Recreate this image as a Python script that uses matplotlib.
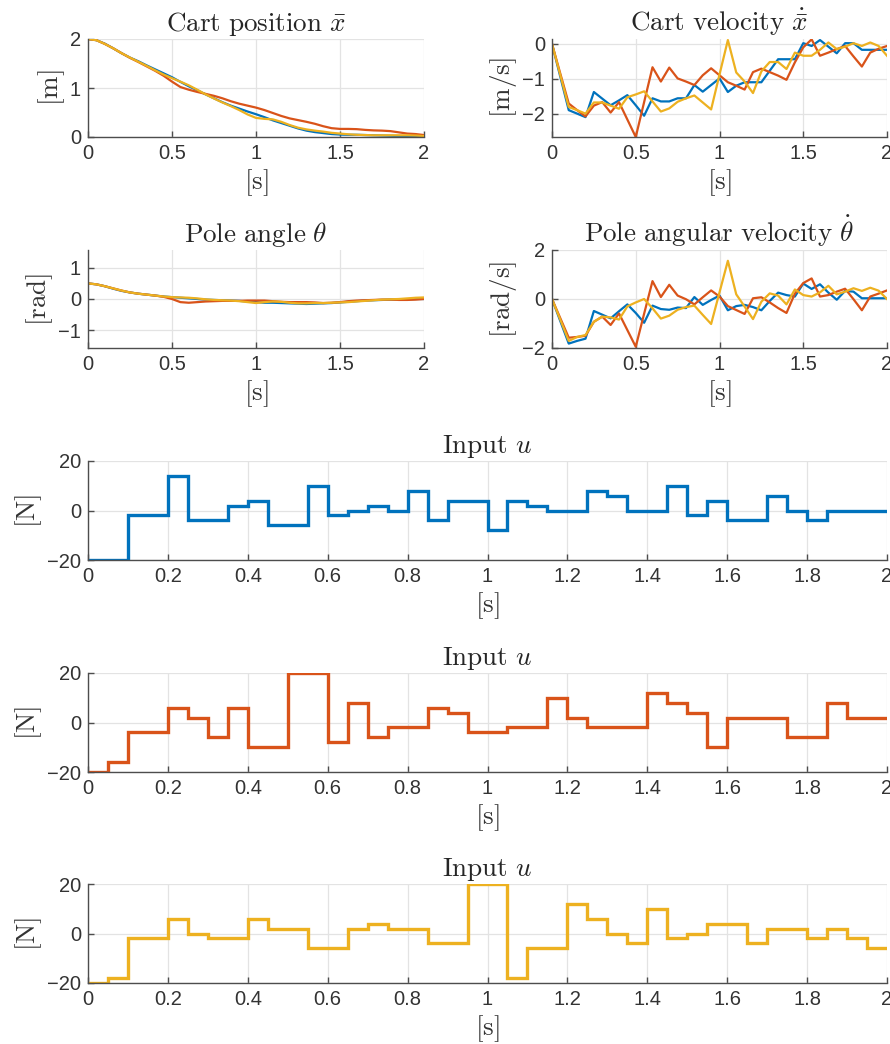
import numpy as np
import matplotlib
matplotlib.use("Agg")
import matplotlib.pyplot as plt

# ---------------- data ----------------
t_state = np.round(np.arange(41) * 0.05, 2)   # sample times [s]
t_edges = np.round(np.arange(41) * 0.05, 2)   # input step edges [s]

pos_blue = [2.00, 1.976, 1.905, 1.81, 1.71, 1.62, 1.545, 1.46, 1.38, 1.30, 1.22,
            1.125, 1.035, 0.955, 0.87, 0.79, 0.71, 0.64, 0.58, 0.52, 0.465,
            0.405, 0.34, 0.285, 0.23, 0.175, 0.13, 0.10, 0.08, 0.06, 0.05,
            0.045, 0.045, 0.04, 0.035, 0.03, 0.025, 0.02, 0.015, 0.01, 0.005]
pos_red = [2.00, 1.976, 1.90, 1.81, 1.71, 1.615, 1.53, 1.44, 1.35, 1.25, 1.13,
           1.02, 0.965, 0.92, 0.88, 0.84, 0.79, 0.73, 0.68, 0.64, 0.60,
           0.55, 0.49, 0.43, 0.38, 0.345, 0.31, 0.27, 0.22, 0.18, 0.165,
           0.165, 0.16, 0.145, 0.135, 0.13, 0.12, 0.095, 0.07, 0.06, 0.04]
pos_yellow = [2.00, 1.976, 1.90, 1.81, 1.71, 1.62, 1.535, 1.45, 1.36, 1.275, 1.20,
              1.13, 1.055, 0.965, 0.87, 0.785, 0.705, 0.63, 0.55, 0.46, 0.39,
              0.37, 0.36, 0.31, 0.245, 0.19, 0.155, 0.13, 0.11, 0.085, 0.07,
              0.055, 0.045, 0.04, 0.035, 0.035, 0.035, 0.035, 0.035, 0.03, 0.02]

vel_blue = [0.0, -0.95, -1.90, -2.00, -2.10, -1.38, -1.57, -1.76, -1.62, -1.47, -1.76,
            -2.06, -1.56, -1.65, -1.65, -1.56, -1.56, -1.18, -1.37, -1.18, -0.99,
            -1.38, -1.20, -1.10, -1.10, -1.10, -0.77, -0.44, -0.44, -0.44, 0.02,
            -0.06, 0.11, -0.08, -0.27, 0.02, 0.02, -0.17, -0.17, -0.17, -0.17]
vel_red = [0.0, -0.86, -1.71, -1.90, -2.08, -1.77, -1.67, -1.97, -1.67, -2.17, -2.67,
           -1.67, -0.67, -1.08, -0.68, -0.99, -1.08, -1.18, -0.90, -0.70, -0.90,
           -1.10, -1.20, -1.31, -0.81, -0.71, -0.81, -0.91, -1.03, -0.53, -0.10,
           0.13, -0.34, -0.25, -0.15, -0.06, -0.36, -0.65, -0.25, -0.14, -0.06]
vel_yellow = [0.0, -0.90, -1.81, -1.90, -2.00, -1.68, -1.68, -1.77, -1.86, -1.53, -1.45,
              -1.36, -1.65, -1.94, -1.85, -1.66, -1.56, -1.48, -1.68, -1.88, -0.88,
              0.11, -0.82, -1.08, -1.41, -0.79, -0.52, -0.52, -0.72, -0.25, -0.34,
              -0.34, -0.17, 0.04, -0.15, -0.08, 0.02, -0.06, 0.04, -0.06, -0.34]

ang_blue = [0.50, 0.47, 0.41, 0.33, 0.26, 0.21, 0.17, 0.14, 0.11, 0.08, 0.06,
            0.04, 0.02, 0.00, -0.02, -0.03, -0.04, -0.05, -0.06, -0.08, -0.10,
            -0.12, -0.12, -0.13, -0.14, -0.15, -0.16, -0.15, -0.14, -0.13, -0.11,
            -0.09, -0.07, -0.05, -0.04, -0.03, -0.02, -0.02, -0.01, 0.00, 0.00]
ang_red = [0.50, 0.47, 0.41, 0.34, 0.27, 0.21, 0.17, 0.14, 0.11, 0.07, 0.00,
           -0.10, -0.12, -0.10, -0.08, -0.07, -0.06, -0.06, -0.06, -0.05, -0.05,
           -0.05, -0.07, -0.09, -0.10, -0.10, -0.10, -0.11, -0.13, -0.12, -0.10,
           -0.07, -0.05, -0.04, -0.03, -0.02, -0.02, -0.03, -0.03, -0.02, 0.00]
ang_yellow = [0.50, 0.47, 0.41, 0.34, 0.27, 0.21, 0.17, 0.14, 0.11, 0.08, 0.06,
              0.05, 0.04, 0.02, -0.01, -0.03, -0.04, -0.05, -0.07, -0.10, -0.13,
              -0.10, -0.08, -0.09, -0.12, -0.14, -0.14, -0.13, -0.13, -0.12, -0.11,
              -0.10, -0.08, -0.06, -0.04, -0.02, -0.01, 0.00, 0.02, 0.04, 0.05]

omg_blue = [0.0, -0.91, -1.82, -1.71, -1.62, -0.49, -0.64, -0.79, -0.50, -0.22, -0.57,
            -0.97, -0.27, -0.41, -0.44, -0.35, -0.37, 0.08, -0.24, -0.04, 0.14,
            -0.46, -0.29, -0.24, -0.33, -0.46, -0.08, 0.26, 0.16, 0.10, 0.63,
            0.41, 0.60, 0.26, -0.03, 0.33, 0.30, 0.03, 0.03, 0.03, 0.03]
omg_red = [0.0, -0.79, -1.58, -1.55, -1.50, -0.93, -0.72, -1.06, -0.59, -1.27, -1.95,
           -0.60, 0.73, 0.08, 0.58, 0.14, -0.01, -0.22, 0.07, 0.35, 0.10,
           -0.29, -0.45, -0.61, 0.03, 0.07, -0.14, -0.37, -0.57, 0.22, 0.65,
           0.84, 0.10, 0.16, 0.30, 0.42, -0.01, -0.46, 0.10, 0.22, 0.35]
omg_yellow = [0.0, -0.85, -1.71, -1.55, -1.47, -0.93, -0.72, -0.75, -0.84, -0.30, -0.14,
              0.00, -0.38, -0.80, -0.68, -0.44, -0.33, -0.27, -0.65, -1.02, 0.27,
              1.56, 0.19, -0.31, -0.82, -0.11, 0.23, 0.14, -0.22, 0.39, 0.16,
              0.10, 0.27, 0.54, 0.19, 0.30, 0.44, 0.33, 0.46, 0.34, 0.00]

u_blue = [-20, -20, -2, -2, 14, -4, -4, 2, 4, -6, -6, 10, -2, 0, 2, 0, 8, -4, 4, 4,
          -8, 4, 2, 0, 0, 8, 6, 0, 0, 10, -2, 4, -4, -4, 6, 0, -4, 0, 0, 0]
u_red = [-20, -16, -4, -4, 6, 2, -6, 6, -10, -10, 20, 20, -8, 8, -6, -2, -2, 6, 4, -4,
         -4, -2, -2, 10, 2, -2, -2, -2, 12, 8, 4, -10, 2, 2, 2, -6, -6, 8, 2, 2]
u_yellow = [-20, -18, -2, -2, 6, 0, -2, -2, 6, 2, 2, -6, -6, 2, 4, 2, 2, -4, -4, 20,
            20, -18, -6, -6, 12, 6, 0, -4, 10, -2, 0, 4, 4, -4, 2, 2, -2, 2, -2, -6]

C_BLUE, C_RED, C_YELLOW = "#0072BD", "#D95319", "#EDB120"

# ---------------- style ----------------
plt.rcParams["font.family"] = ["Liberation Sans", "DejaVu Sans"]
plt.rcParams["mathtext.fontset"] = "cm"
plt.rcParams["axes.unicode_minus"] = True

W, H = 890, 1044
fig = plt.figure(figsize=(W / 100, H / 100), dpi=100)

def box(x0, y0, x1, y1):
    return [x0 / W, 1 - y1 / H, (x1 - x0) / W, (y1 - y0) / H]

TICK_FS = 14.5
LAB_FS = 19.5

def style(ax, ylab, yticks, ylim, xticks):
    ax.set_xlim(0, 2)
    ax.set_ylim(*ylim)
    ax.set_xticks(xticks)
    ax.set_xticklabels([("%g" % v) for v in xticks])
    ax.set_yticks(yticks)
    for s in ("top", "right"):
        ax.spines[s].set_visible(False)
    for s in ("left", "bottom"):
        ax.spines[s].set_color("#4d4d4d")
        ax.spines[s].set_linewidth(1.0)
    ax.tick_params(direction="in", length=4, width=1.0, colors="#4d4d4d",
                   labelcolor="#333333", labelsize=TICK_FS, pad=5)
    ax.grid(True, color="#e3e3e3", linewidth=0.9)
    ax.set_axisbelow(True)
    ax.set_xlabel(r"$[\mathrm{s}]$", fontsize=LAB_FS, labelpad=3, color="#333333")
    ax.set_ylabel(ylab, fontsize=LAB_FS, labelpad=2, color="#333333")

def title(ax, txt):
    ax.set_title(txt, fontsize=LAB_FS, pad=6, color="#262626")

LW = 1.6
xt_small = [0, 0.5, 1, 1.5, 2]

ax = fig.add_axes(box(88, 39, 424, 137))
for y, c in ((pos_blue, C_BLUE), (pos_red, C_RED), (pos_yellow, C_YELLOW)):
    ax.plot(t_state, y, color=c, lw=LW)
style(ax, r"$[\mathrm{m}]$", [0, 1, 2], (0, 2), xt_small)
title(ax, r"$\mathrm{Cart\ position}\ \bar{x}$")

ax = fig.add_axes(box(552, 39, 887, 137))
for y, c in ((vel_blue, C_BLUE), (vel_red, C_RED), (vel_yellow, C_YELLOW)):
    ax.plot(t_state, y, color=c, lw=LW)
style(ax, r"$[\mathrm{m/s}]$", [-2, -1, 0], (-2.67, 0.14), xt_small)
title(ax, r"$\mathrm{Cart\ velocity}\ \dot{\bar{x}}$")

ax = fig.add_axes(box(88, 250, 424, 348))
for y, c in ((ang_blue, C_BLUE), (ang_red, C_RED), (ang_yellow, C_YELLOW)):
    ax.plot(t_state, y, color=c, lw=LW)
style(ax, r"$[\mathrm{rad}]$", [-1, 0, 1], (-1.5708, 1.5708), xt_small)
title(ax, r"$\mathrm{Pole\ angle}\ \theta$")

ax = fig.add_axes(box(552, 250, 887, 348))
for y, c in ((omg_blue, C_BLUE), (omg_red, C_RED), (omg_yellow, C_YELLOW)):
    ax.plot(t_state, y, color=c, lw=LW)
style(ax, r"$[\mathrm{rad/s}]$", [-2, 0, 2], (-2, 2), xt_small)
title(ax, r"$\mathrm{Pole\ angular\ velocity}\ \dot{\theta}$")

xt_big = [0, 0.2, 0.4, 0.6, 0.8, 1, 1.2, 1.4, 1.6, 1.8, 2]
for (y0, y1), u, c in (((461, 560), u_blue, C_BLUE),
                       ((673, 772), u_red, C_RED),
                       ((884, 983), u_yellow, C_YELLOW)):
    ax = fig.add_axes(box(88, y0, 887, y1))
    ax.stairs(u, t_edges, baseline=None, color=c, lw=2.4)
    style(ax, r"$[\mathrm{N}]$", [-20, 0, 20], (-20, 20), xt_big)
    title(ax, r"$\mathrm{Input}\ u$")

fig.savefig("out.png", dpi=100)
